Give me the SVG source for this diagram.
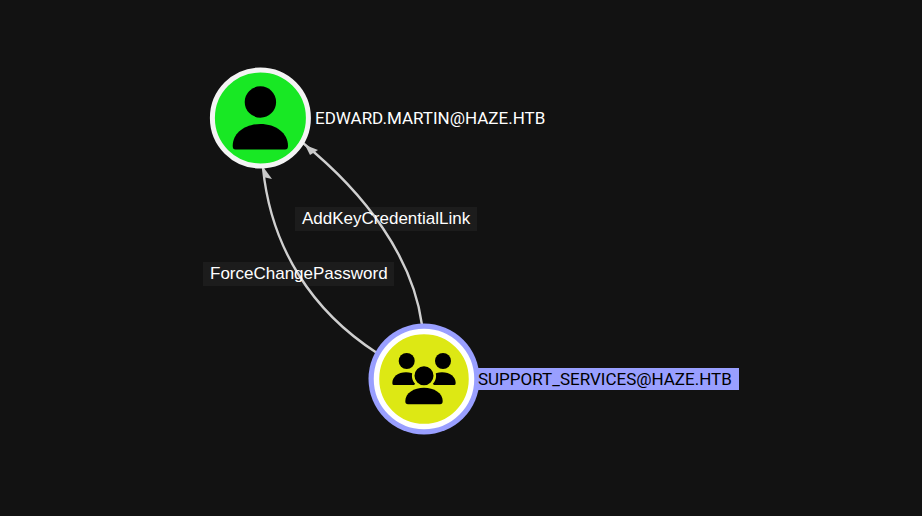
<svg xmlns="http://www.w3.org/2000/svg" width="922" height="516" viewBox="0 0 922 516">
<style>
text{font-family:Roboto,"Liberation Sans",sans-serif;font-size:17px}
.elabel{font-family:"Liberation Sans",Arial,sans-serif;font-size:17px}
.edge{fill:none;stroke:#cfcfcf;stroke-width:2.4}
.ah{fill:#c8c8c8}
.lb{fill:#fff;fill-opacity:.045}
.lt{fill:#fff}
</style>
<rect width="922" height="516" fill="#121212"/>
<g id="connectors">
<path class="edge" d="M422 325C413 258 366 194 303 143"/>
<path class="ah" d="M305 145L318 150L310 155Z"/>
<path class="edge" d="M377 353C312 311 271 248 263 168"/>
<path class="ah" d="M264 168L272 179L263 177Z"/>
</g>
<g id="edge-label-1"><rect class="lb" x="295" y="207" width="182" height="24"/><text class="lt elabel" x="302" y="224">AddKeyCredentialLink</text></g>
<g id="edge-label-2"><rect class="lb" x="203" y="262" width="191" height="24"/><text class="lt elabel" x="210" y="279">ForceChangePassword</text></g>
<g id="node-edward">
<circle cx="260.4" cy="118" r="48" fill="#18e824" stroke="#f4f4f4" stroke-width="5"/>
<circle cx="260.4" cy="102" r="15.7"/>
<path d="M232.7 146C232.7 133 245 124 260.4 124S288 133 288 146Q288 149.500 285 149.500H235.500Q232.700 149.500 232.700 146Z"/>
<text class="lt" x="315" y="124">EDWARD.MARTIN@HAZE.HTB</text>
</g>
<g id="node-support">
<rect x="477" y="368" width="262" height="22" fill="#999fff"/>
<circle cx="424" cy="379" r="55.500" fill="#999fff"/>
<circle cx="424" cy="379" r="47.500" fill="#dde814" stroke="#fff" stroke-width="5.500"/>
<circle cx="406.700" cy="361" r="8"/>
<circle cx="443" cy="361" r="8"/>
<path d="M392.300 383C392.300 377 398 372.300 406 372.300S418 376 418 381L414 385H393.500Q392.300 385 392.300 383Z"/>
<path d="M455.700 383C455.700 377 450 372.300 442 372.300S430 376 430 381L434 385H454.500Q455.700 385 455.700 383Z"/>
<circle cx="424" cy="375.700" r="10.800" fill="#000" stroke="#dde814" stroke-width="2.600"/>
<path d="M405.300 401C405.300 393 414 387.700 424 387.700S442.700 393 442.700 401Q442.700 404.300 440 404.300H408Q405.300 404.300 405.300 401Z"/>
<text x="478" y="385" fill="#000">SUPPORT_SERVICES@HAZE.HTB</text>
</g>
</svg>
